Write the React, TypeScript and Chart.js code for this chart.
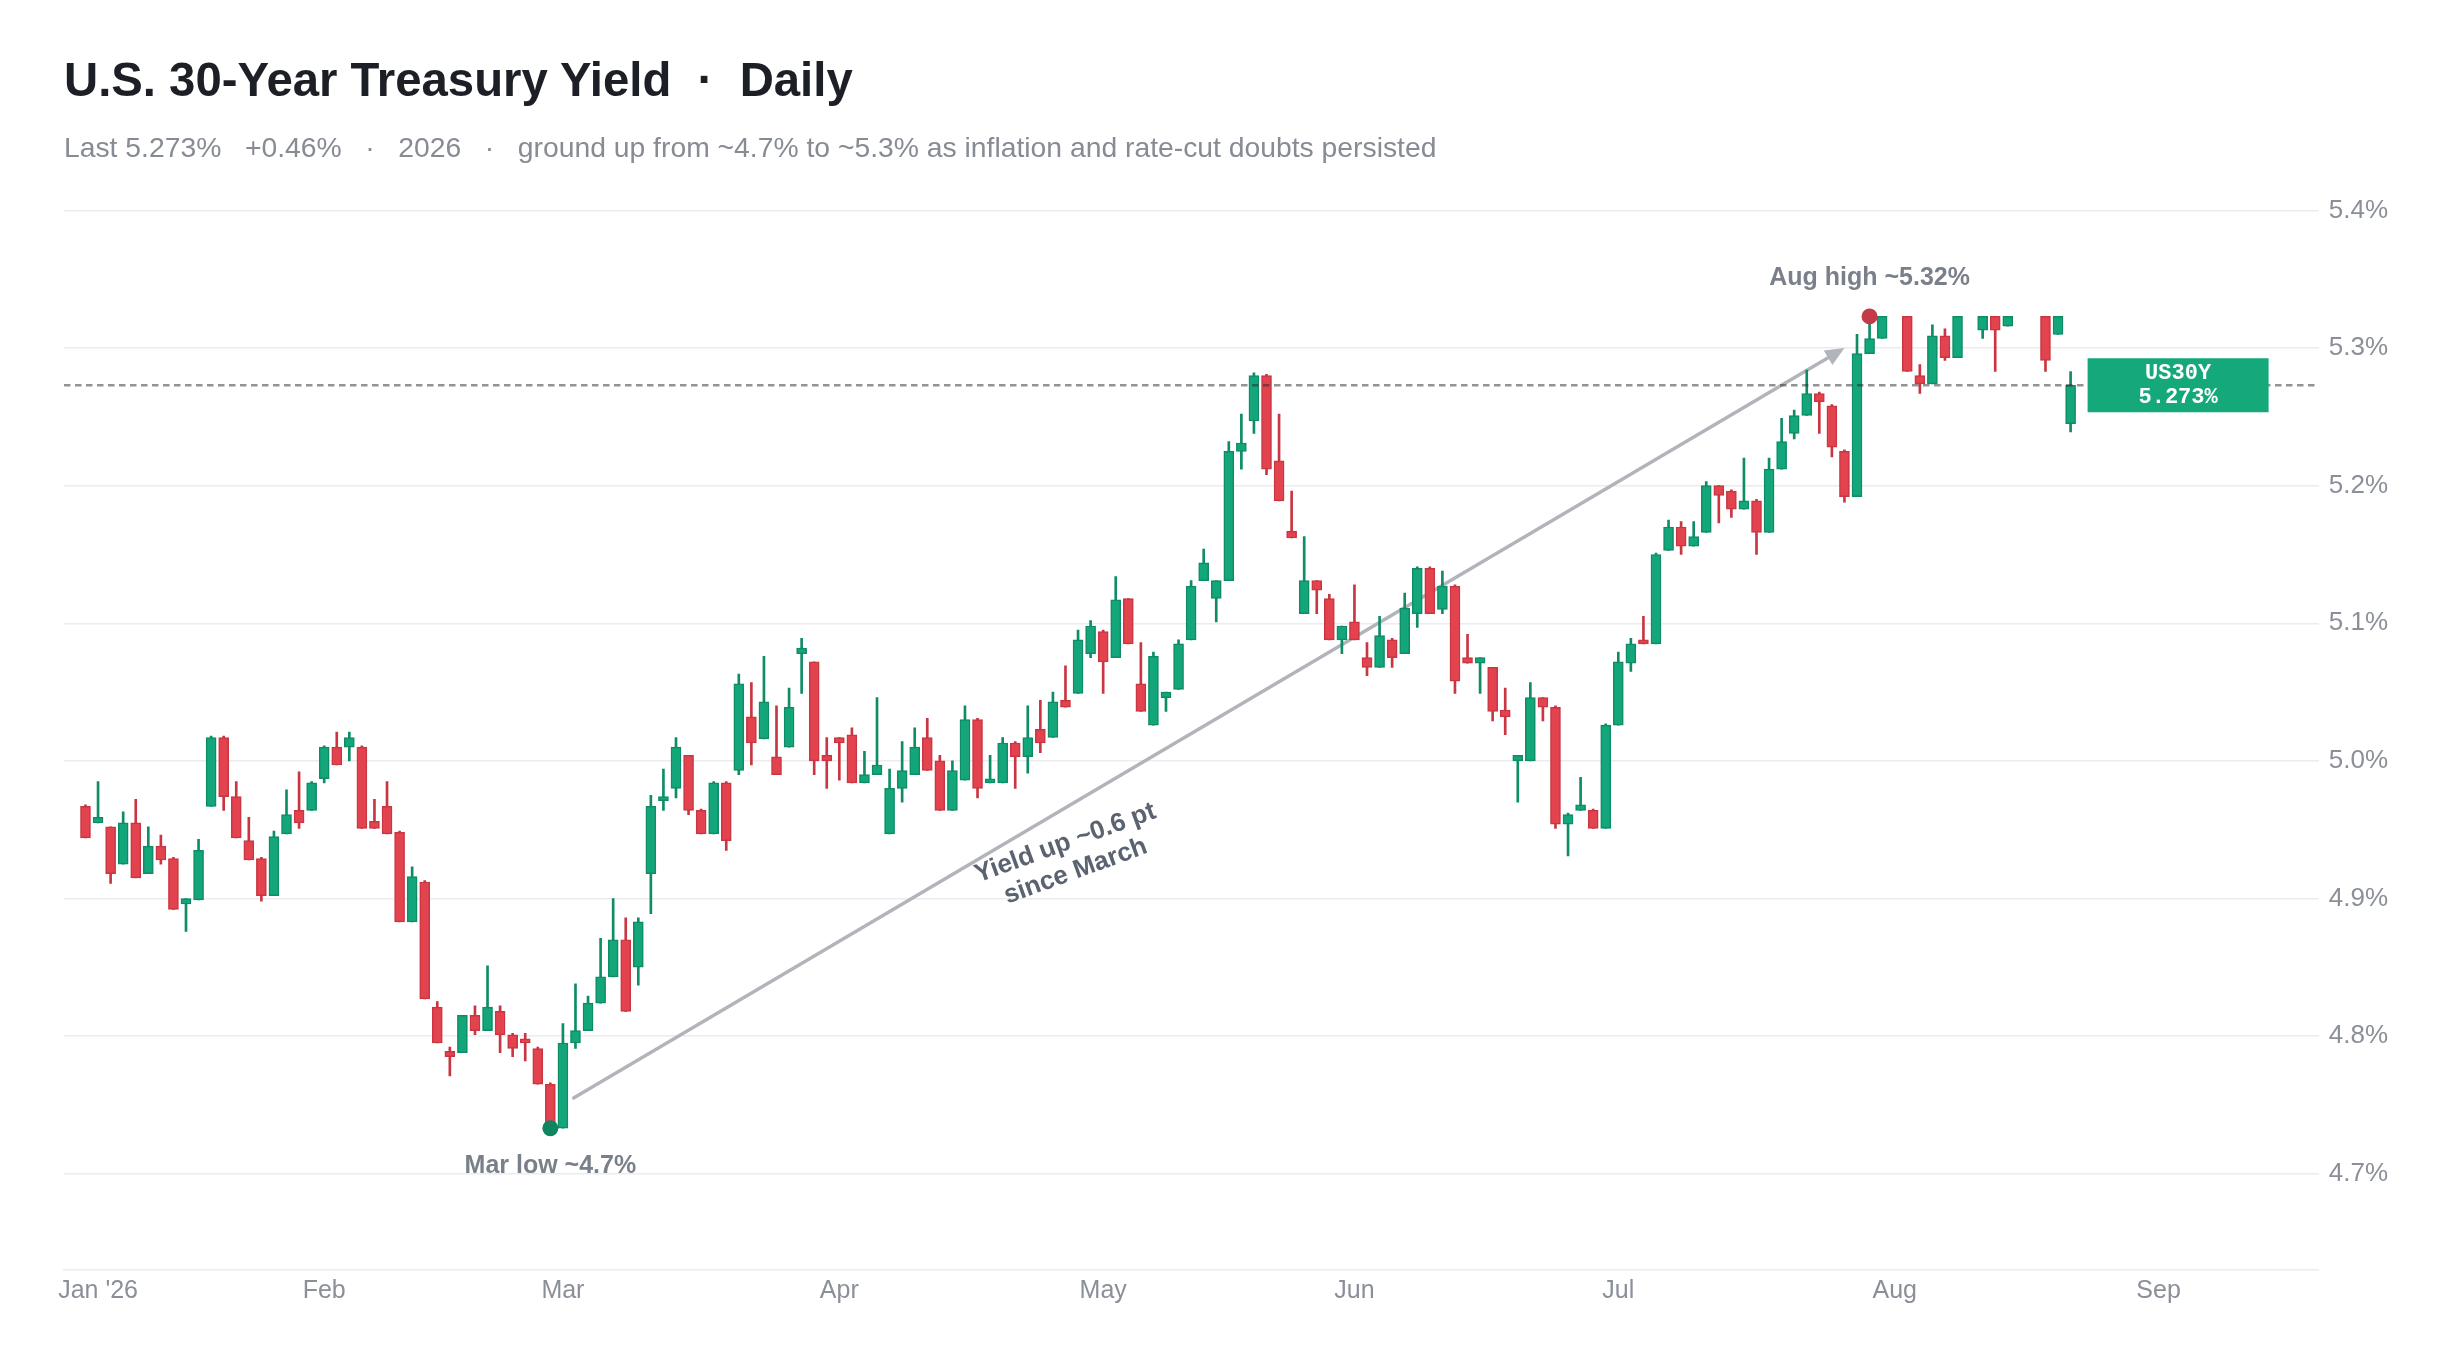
import React, { useEffect, useRef } from "react";
import { Chart, registerables } from "chart.js";

Chart.register(...registerables);

// ---- Data (daily OHLC, trading-day index 0 = first session of Jan 2026) ----
const OPEN: (number | null)[] = [
  4.967, 4.955, 4.952, 4.925, 4.955, 4.918, 4.938, 4.929, 4.896, 4.899,
  4.967, 5.017, 4.974, 4.942, 4.929, 4.902, 4.947, 4.964, 4.964, 4.987,
  5.010, 5.010, 5.010, 4.956, 4.967, 4.948, 4.883, 4.912, 4.821, 4.789,
  4.788, 4.815, 4.804, 4.818, 4.801, 4.798, 4.791, 4.765, 4.733, 4.795,
  4.804, 4.824, 4.843, 4.870, 4.850, 4.918, 4.971, 4.980, 5.004, 4.964,
  4.947, 4.984, 4.993, 5.032, 5.016, 5.003, 5.010, 5.078, 5.072, 5.004,
  5.017, 5.019, 4.984, 4.990, 4.947, 4.980, 4.990, 5.017, 5.000, 4.964,
  4.986, 5.030, 4.984, 4.984, 5.013, 5.003, 5.023, 5.017, 5.044, 5.049,
  5.078, 5.094, 5.075, 5.118, 5.056, 5.026, 5.046, 5.052, 5.088, 5.131,
  5.118, 5.131, 5.225, 5.247, 5.280, 5.218, 5.167, 5.107, 5.131, 5.118,
  5.088, 5.101, 5.075, 5.068, 5.088, 5.078, 5.107, 5.140, 5.110, 5.127,
  5.075, 5.071, 5.068, 5.037, 5.000, 5.000, 5.046, 5.039, 4.954, 4.964,
  4.964, 4.951, 5.026, 5.071, 5.088, 5.085, 5.153, 5.170, 5.156, 5.166,
  5.200, 5.196, 5.183, 5.189, 5.166, 5.212, 5.238, 5.251, 5.267, 5.258,
  5.225, 5.192, 5.296, 5.307, null, 5.323, 5.280, 5.274, 5.309, 5.293,
  null, 5.313, 5.323, 5.316, null, null, 5.323, 5.310, 5.245,
];

const HIGH: (number | null)[] = [
  4.968, 4.985, 4.952, 4.963, 4.972, 4.952, 4.946, 4.930, 4.900, 4.943,
  5.018, 5.018, 4.985, 4.959, 4.930, 4.949, 4.979, 4.992, 4.985, 5.011,
  5.021, 5.021, 5.011, 4.972, 4.985, 4.949, 4.923, 4.913, 4.825, 4.792,
  4.815, 4.822, 4.851, 4.822, 4.802, 4.802, 4.792, 4.766, 4.809, 4.838,
  4.829, 4.871, 4.900, 4.886, 4.886, 4.975, 4.994, 5.017, 5.004, 4.965,
  4.985, 4.985, 5.063, 5.057, 5.076, 5.040, 5.053, 5.089, 5.072, 5.017,
  5.017, 5.024, 5.007, 5.046, 4.994, 5.014, 5.024, 5.031, 5.004, 5.000,
  5.040, 5.031, 5.004, 5.017, 5.014, 5.040, 5.044, 5.050, 5.069, 5.095,
  5.102, 5.095, 5.134, 5.118, 5.086, 5.079, 5.050, 5.088, 5.131, 5.154,
  5.131, 5.232, 5.252, 5.282, 5.281, 5.252, 5.196, 5.163, 5.131, 5.121,
  5.098, 5.128, 5.086, 5.105, 5.089, 5.122, 5.141, 5.141, 5.138, 5.128,
  5.092, 5.075, 5.068, 5.053, 5.004, 5.057, 5.046, 5.040, 4.962, 4.988,
  4.965, 5.027, 5.079, 5.089, 5.105, 5.151, 5.175, 5.174, 5.174, 5.203,
  5.200, 5.197, 5.220, 5.190, 5.220, 5.249, 5.255, 5.284, 5.268, 5.259,
  5.226, 5.310, 5.323, 5.323, null, 5.323, 5.288, 5.317, 5.314, 5.323,
  null, 5.323, 5.323, 5.323, null, null, 5.323, 5.323, 5.283,
];

const LOW: (number | null)[] = [
  4.944, 4.955, 4.911, 4.925, 4.915, 4.918, 4.925, 4.892, 4.876, 4.899,
  4.967, 4.964, 4.944, 4.928, 4.898, 4.902, 4.947, 4.951, 4.964, 4.984,
  4.997, 5.000, 4.951, 4.951, 4.947, 4.883, 4.883, 4.827, 4.795, 4.771,
  4.788, 4.801, 4.804, 4.788, 4.785, 4.782, 4.765, 4.733, 4.733, 4.791,
  4.804, 4.824, 4.843, 4.818, 4.837, 4.889, 4.964, 4.973, 4.961, 4.947,
  4.947, 4.935, 4.990, 4.997, 5.016, 4.990, 5.010, 5.049, 4.990, 4.980,
  4.986, 4.984, 4.984, 4.990, 4.947, 4.970, 4.990, 4.993, 4.964, 4.964,
  4.986, 4.973, 4.984, 4.984, 4.980, 4.991, 5.006, 5.017, 5.039, 5.049,
  5.075, 5.049, 5.075, 5.085, 5.036, 5.026, 5.036, 5.052, 5.088, 5.131,
  5.101, 5.131, 5.212, 5.238, 5.208, 5.189, 5.162, 5.107, 5.107, 5.088,
  5.078, 5.088, 5.062, 5.068, 5.068, 5.078, 5.097, 5.107, 5.107, 5.049,
  5.071, 5.049, 5.029, 5.019, 4.970, 5.000, 5.029, 4.951, 4.931, 4.964,
  4.951, 4.951, 5.026, 5.065, 5.085, 5.085, 5.153, 5.150, 5.156, 5.166,
  5.173, 5.177, 5.183, 5.150, 5.166, 5.212, 5.234, 5.251, 5.238, 5.221,
  5.188, 5.192, 5.296, 5.307, null, 5.283, 5.267, 5.274, 5.291, 5.293,
  null, 5.307, 5.283, 5.316, null, null, 5.283, 5.310, 5.239,
];

const CLOSE: (number | null)[] = [
  4.944, 4.959, 4.918, 4.955, 4.915, 4.938, 4.928, 4.892, 4.900, 4.935,
  5.017, 4.974, 4.944, 4.928, 4.902, 4.945, 4.961, 4.955, 4.984, 5.010,
  4.997, 5.017, 4.951, 4.951, 4.947, 4.883, 4.916, 4.827, 4.795, 4.785,
  4.815, 4.804, 4.821, 4.801, 4.791, 4.795, 4.765, 4.733, 4.795, 4.804,
  4.824, 4.843, 4.870, 4.818, 4.883, 4.967, 4.974, 5.010, 4.964, 4.947,
  4.984, 4.942, 5.056, 5.013, 5.043, 4.990, 5.039, 5.082, 5.000, 5.000,
  5.013, 4.984, 4.990, 4.997, 4.980, 4.993, 5.010, 4.993, 4.964, 4.993,
  5.030, 4.980, 4.987, 5.013, 5.003, 5.017, 5.013, 5.043, 5.039, 5.088,
  5.098, 5.072, 5.117, 5.085, 5.036, 5.076, 5.050, 5.085, 5.127, 5.144,
  5.131, 5.225, 5.231, 5.280, 5.212, 5.189, 5.162, 5.131, 5.124, 5.088,
  5.098, 5.088, 5.068, 5.091, 5.075, 5.111, 5.140, 5.107, 5.127, 5.058,
  5.071, 5.075, 5.036, 5.032, 5.004, 5.046, 5.039, 4.954, 4.961, 4.968,
  4.951, 5.026, 5.072, 5.085, 5.085, 5.150, 5.170, 5.156, 5.163, 5.200,
  5.193, 5.183, 5.189, 5.166, 5.212, 5.232, 5.251, 5.267, 5.261, 5.228,
  5.192, 5.296, 5.307, 5.323, null, 5.283, 5.274, 5.309, 5.293, 5.323,
  null, 5.323, 5.313, 5.323, null, null, 5.291, 5.323, 5.273,
];

// month tick labels and the trading-day index they sit on
const MONTH_LABELS = ["Jan '26", "Feb", "Mar", "Apr", "May", "Jun", "Jul", "Aug", "Sep"];
const MONTH_TICK_INDEX = [1, 19, 38, 60, 81, 101, 122, 144, 165];

const Y_TICKS = [4.7, 4.8, 4.9, 5.0, 5.1, 5.2, 5.3, 5.4];
const Y_MIN = 4.63;
const Y_MAX = 5.4;
const X_MIN = -1.71;
const X_MAX = 177.75;

const SYMBOL = "US30Y";
const LOW_POINT = { index: 37, value: 4.733, label: "Mar low ~4.7%" };
const HIGH_POINT = { index: 142, value: 5.323, label: "Aug high ~5.32%" };
const TREND_FROM = { x: 38.85, y: 4.755 };
const TREND_TO = { x: 140, y: 5.3 };
const TREND_LABEL = ["Yield up ~0.6 pt", "since March"];
const TREND_LABEL_AT = { x: 78.4, y: 4.93 };

// ---- Styles ----
const SANS = '"Liberation Sans", Arial, Helvetica, sans-serif';
const MONO = '"Liberation Mono", "DejaVu Sans Mono", monospace';
const UP_FILL = "#13a67a";
const UP_LINE = "#0e8c65";
const DOWN_FILL = "#e2434f";
const DOWN_LINE = "#c93641";
const LOW_DOT = "#0d8560";
const HIGH_DOT = "#c53a48";
const GRID = "#ececf0";
const AXIS_TEXT = "#8a8f98";
const NOTE_TEXT = "#7a808a";
const TREND_TEXT = "#5b6371";
const ARROW = "#b1b4ba";

const annotationPlugin = {
  id: "yieldAnnotations",
  beforeDatasetsDraw(chart: any) {
    const { ctx } = chart;
    const xs = chart.scales.x;
    const ys = chart.scales.y;
    const x1 = xs.getPixelForValue(TREND_FROM.x);
    const y1 = ys.getPixelForValue(TREND_FROM.y);
    const x2 = xs.getPixelForValue(TREND_TO.x);
    const y2 = ys.getPixelForValue(TREND_TO.y);
    const ang = Math.atan2(y2 - y1, x2 - x1);
    const headLen = 19;
    const headHalf = 8.5;
    const bx = x2 - headLen * Math.cos(ang);
    const by = y2 - headLen * Math.sin(ang);
    ctx.save();
    ctx.strokeStyle = ARROW;
    ctx.fillStyle = ARROW;
    ctx.lineWidth = 3.4;
    ctx.lineCap = "round";
    ctx.beginPath();
    ctx.moveTo(x1, y1);
    ctx.lineTo(bx + 2 * Math.cos(ang), by + 2 * Math.sin(ang));
    ctx.stroke();
    ctx.beginPath();
    ctx.moveTo(x2, y2);
    ctx.lineTo(bx - headHalf * Math.sin(ang), by + headHalf * Math.cos(ang));
    ctx.lineTo(bx + headHalf * Math.sin(ang), by - headHalf * Math.cos(ang));
    ctx.closePath();
    ctx.fill();
    ctx.restore();
  },
  afterDatasetsDraw(chart: any) {
    const { ctx, chartArea } = chart;
    const xs = chart.scales.x;
    const ys = chart.scales.y;

    // last value
    let lastIdx = CLOSE.length - 1;
    while (lastIdx > 0 && CLOSE[lastIdx] == null) lastIdx--;
    const last = CLOSE[lastIdx] as number;
    const ly = ys.getPixelForValue(last);

    ctx.save();
    ctx.strokeStyle = "rgba(40,40,40,0.5)";
    ctx.lineWidth = 2.3;
    ctx.setLineDash([6.5, 4.5]);
    ctx.beginPath();
    ctx.moveTo(chartArea.left, ly);
    ctx.lineTo(chartArea.right, ly);
    ctx.stroke();
    ctx.setLineDash([]);

    // price tag box
    const bxLeft = xs.getPixelForValue(lastIdx) + 17;
    const bw = 181;
    const bh = 54;
    ctx.fillStyle = "#14a87b";
    ctx.fillRect(bxLeft, ly - bh / 2, bw, bh);
    ctx.fillStyle = "#ffffff";
    ctx.font = `bold 22px ${MONO}`;
    ctx.textAlign = "center";
    ctx.textBaseline = "middle";
    ctx.fillText(SYMBOL, bxLeft + bw / 2, ly - 12);
    ctx.fillText(last.toFixed(3) + "%", bxLeft + bw / 2, ly + 12);

    // extreme labels
    ctx.font = `bold 25px ${SANS}`;
    ctx.fillStyle = NOTE_TEXT;
    ctx.textBaseline = "alphabetic";
    const lx = xs.getPixelForValue(LOW_POINT.index);
    const lyy = ys.getPixelForValue(LOW_POINT.value);
    ctx.fillText(LOW_POINT.label, lx, lyy + 45);
    const hx = xs.getPixelForValue(HIGH_POINT.index);
    const hy = ys.getPixelForValue(HIGH_POINT.value);
    ctx.fillText(HIGH_POINT.label, hx, hy - 31);

    // trend label
    const tx = xs.getPixelForValue(TREND_LABEL_AT.x);
    const ty = ys.getPixelForValue(TREND_LABEL_AT.y);
    ctx.translate(tx, ty);
    ctx.rotate((-20 * Math.PI) / 180);
    ctx.font = `bold 26px ${SANS}`;
    ctx.fillStyle = TREND_TEXT;
    ctx.textBaseline = "middle";
    ctx.fillText(TREND_LABEL[0], 0, -15);
    ctx.fillText(TREND_LABEL[1], 0, 15);
    ctx.restore();
  },
};

export default function App() {
  const canvasRef = useRef<HTMLCanvasElement | null>(null);

  useEffect(() => {
    const canvas = canvasRef.current;
    if (!canvas) return;

    const bodies: any[] = [];
    const wicks: any[] = [];
    for (let i = 0; i < CLOSE.length; i++) {
      const o = OPEN[i];
      const c = CLOSE[i];
      const h = HIGH[i];
      const l = LOW[i];
      if (o == null || c == null || h == null || l == null) continue;
      const up = c >= o;
      bodies.push({ x: i, y: [o, c], up });
      wicks.push({ x: i, y: [l, h], up });
    }

    const chart = new Chart(canvas, {
      type: "bar",
      data: {
        datasets: [
          {
            type: "scatter",
            data: [
              { x: LOW_POINT.index, y: LOW_POINT.value },
              { x: HIGH_POINT.index, y: HIGH_POINT.value },
            ],
            pointRadius: 8,
            pointHoverRadius: 8,
            pointBorderWidth: 0,
            pointBackgroundColor: [LOW_DOT, HIGH_DOT],
            order: 0,
          } as any,
          {
            type: "bar",
            data: bodies,
            barThickness: 10,
            grouped: false,
            borderWidth: 1.5,
            borderSkipped: false,
            backgroundColor: (c: any) => (c.raw && c.raw.up ? UP_FILL : DOWN_FILL),
            borderColor: (c: any) => (c.raw && c.raw.up ? UP_LINE : DOWN_LINE),
            order: 1,
          } as any,
          {
            type: "bar",
            data: wicks,
            barThickness: 2,
            grouped: false,
            borderWidth: 0,
            backgroundColor: (c: any) => (c.raw && c.raw.up ? UP_LINE : DOWN_LINE),
            order: 2,
          } as any,
        ],
      },
      options: {
        animation: false,
        responsive: true,
        maintainAspectRatio: false,
        events: [],
        layout: { padding: { left: 56, top: 202.5, right: 43, bottom: 49 } },
        plugins: {
          legend: { display: false },
          tooltip: { enabled: false },
          title: { display: false },
        },
        scales: {
          x: {
            type: "linear",
            min: X_MIN,
            max: X_MAX,
            offset: false,
            grid: { display: false, offset: false },
            border: { display: true, color: GRID, width: 1.5 },
            afterBuildTicks: (axis: any) => {
              axis.ticks = MONTH_TICK_INDEX.map((v) => ({ value: v }));
            },
            ticks: {
              autoSkip: false,
              maxRotation: 0,
              minRotation: 0,
              padding: 1,
              color: AXIS_TEXT,
              font: { family: SANS, size: 25, lineHeight: 1 },
              callback: (_v: any, i: number) => MONTH_LABELS[i],
            },
          },
          y: {
            type: "linear",
            position: "right",
            min: Y_MIN,
            max: Y_MAX,
            grid: { color: GRID, lineWidth: 1.5, drawTicks: false },
            border: { display: false },
            afterBuildTicks: (axis: any) => {
              axis.ticks = Y_TICKS.map((v) => ({ value: v }));
            },
            ticks: {
              padding: 10,
              color: AXIS_TEXT,
              font: { family: SANS, size: 26 },
              callback: (v: any) => Number(v).toFixed(1) + "%",
            },
          },
        },
      } as any,
      plugins: [annotationPlugin],
    });

    return () => {
      chart.destroy();
    };
  }, []);

  return (
    <div style={{ position: "relative", width: 2433, height: 1346, fontFamily: SANS }}>
      <div style={{ position: "absolute", left: 0, top: 0, width: 2433, height: 1346 }}>
        <canvas ref={canvasRef} />
      </div>
      <div
        style={{
          position: "absolute",
          left: 56,
          top: 48,
          fontSize: 47.3,
          lineHeight: "47px",
          fontWeight: 700,
          color: "#1c1f25",
          whiteSpace: "pre",
        }}
      >
        {"U.S. 30-Year Treasury Yield  ·  Daily"}
      </div>
      <div
        style={{
          position: "absolute",
          left: 56,
          top: 125,
          fontSize: 28.3,
          lineHeight: "28px",
          color: "#868b94",
          whiteSpace: "pre",
        }}
      >
        {"Last 5.273%   +0.46%   ·   2026   ·   ground up from ~4.7% to ~5.3% as inflation and rate-cut doubts persisted"}
      </div>
    </div>
  );
}
